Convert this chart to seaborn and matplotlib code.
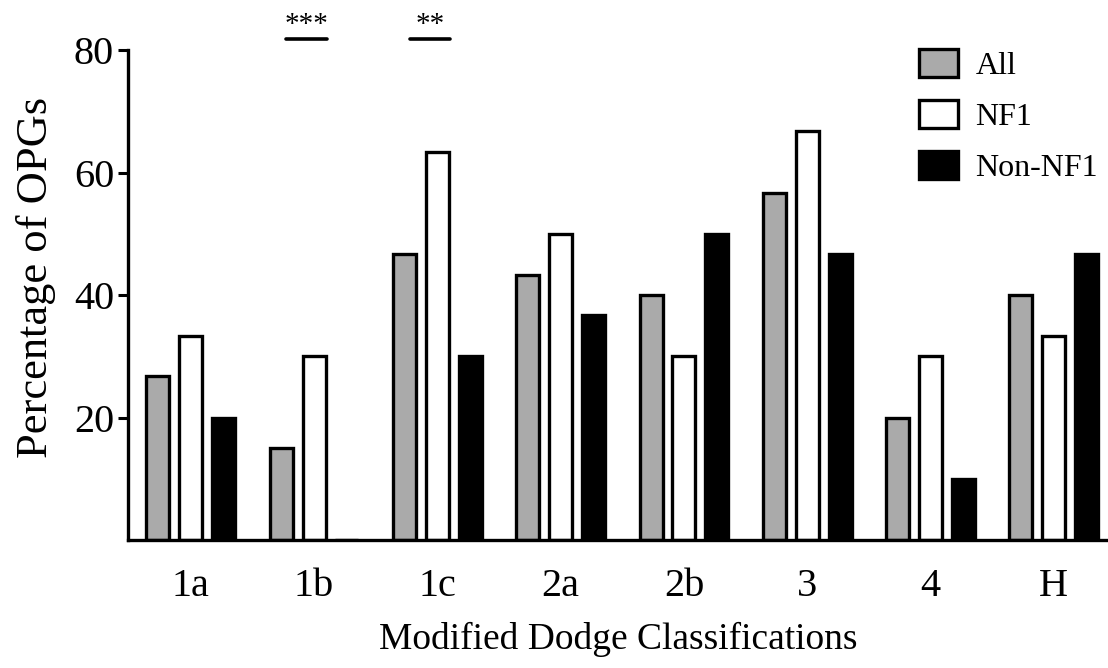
import numpy as np
import pandas as pd
import matplotlib
matplotlib.use("Agg")
import matplotlib.pyplot as plt
import seaborn as sns

# Data
categories = ["1a", "1b", "1c", "2a", "2b", "3", "4", "H"]
all_pct = [26.7, 15.0, 46.7, 43.3, 40.0, 56.7, 20.0, 40.0]
nf1_pct = [33.3, 30.0, 63.3, 50.0, 30.0, 66.7, 30.0, 33.3]
non_nf1_pct = [20.0, 0.0, 30.0, 36.7, 50.0, 46.7, 10.0, 46.7]
groups = ["All", "NF1", "Non-NF1"]
sig_labels = {"1b": "***", "1c": "**"}

df = pd.DataFrame({"Class": categories, "All": all_pct,
                   "NF1": nf1_pct, "Non-NF1": non_nf1_pct})
df = df.melt(id_vars="Class", var_name="Group", value_name="Percent")

sns.set_style("white")
plt.rcParams["font.family"] = ["Liberation Serif", "DejaVu Serif"]
plt.rcParams.update({"text.color": "black", "axes.labelcolor": "black",
                     "xtick.color": "black", "ytick.color": "black"})

fig = plt.figure(figsize=(11.08, 6.68), dpi=100)
ax = fig.add_axes([0.1155, 0.1916, 0.8845, 0.7335])

palette = {"All": "#aaaaaa", "NF1": "white", "Non-NF1": "black"}
sns.barplot(data=df, x="Class", y="Percent", hue="Group", hue_order=groups,
            order=categories, palette=palette, edgecolor="black",
            linewidth=2.4, gap=0.3, width=0.8, ax=ax, legend=True)

ax.set_ylim(0, 80)
ax.set_xlim(-0.51, 7.44)
ax.set_yticks([20, 40, 60, 80])
ax.tick_params(axis="y", labelsize=29, length=7, width=2.2, direction="out",
               left=True, pad=3)
ax.tick_params(axis="x", labelsize=29, length=0, pad=20)
for s in ["top", "right"]:
    ax.spines[s].set_visible(False)
for s in ["left", "bottom"]:
    ax.spines[s].set_linewidth(2.4)
    ax.spines[s].set_color("black")

ax.set_ylabel("Percentage of OPGs", fontsize=32)
ax.yaxis.set_label_coords(-0.073, 0.535)
ax.set_xlabel("Modified Dodge Classifications", fontsize=27, labelpad=12)

# significance marks above the axes
for cat, stars in sig_labels.items():
    i = categories.index(cat) - 0.06
    ax.plot([i - 0.165, i + 0.165], [81.8, 81.8], color="black", lw=2.6,
            clip_on=False)
    ax.text(i, 82.0, stars, ha="center", va="bottom", fontsize=21,
            clip_on=False)

leg = ax.legend(loc="upper left", bbox_to_anchor=(0.829, 0.926),
                bbox_transform=fig.transFigure, frameon=False, fontsize=23,
                handlelength=1.25, handleheight=0.95, handletextpad=0.53,
                labelspacing=0.6, borderpad=0, borderaxespad=0)

fig.savefig("out.png", dpi=100)
